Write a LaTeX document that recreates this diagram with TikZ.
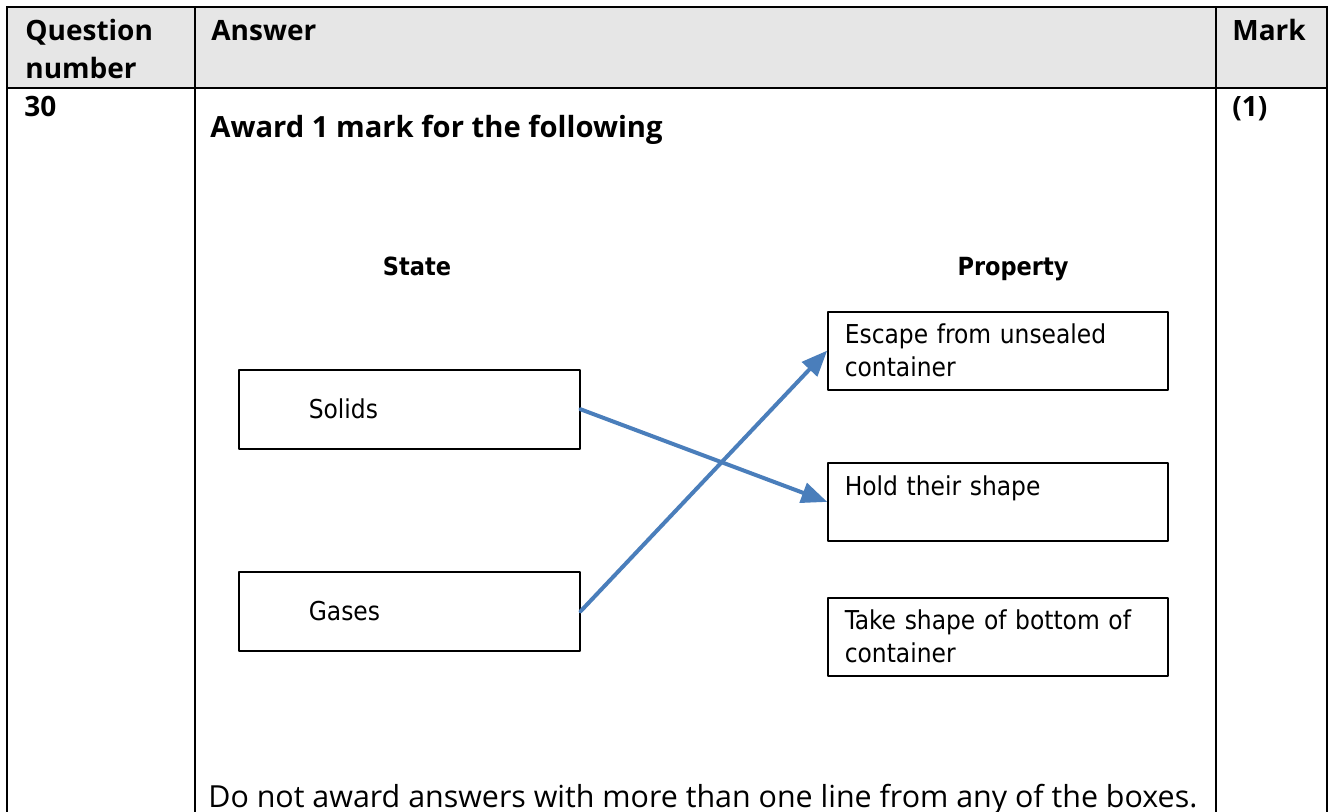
\documentclass[tikz,border=0pt]{standalone}
\usepackage{fontspec}
\setmainfont{Open Sans}
\newfontfamily\boxfont{DejaVu Sans Condensed}
\usepackage[usenames]{xcolor}
\usepackage{tikz}
\usetikzlibrary{arrows}
\definecolor{headgrey}{HTML}{E6E6E6}
\definecolor{linkblue}{HTML}{4A7EBB}
\tikzset{
  headtext/.style={anchor=base west,inner sep=0,font=\fontsize{14}{19}\selectfont\bfseries},
  bodytext/.style={anchor=base west,inner sep=0,font=\fontsize{15.2}{20}\selectfont},
  coltitle/.style={anchor=base,inner sep=0,font=\boxfont\fontsize{12.5}{16.5}\selectfont\bfseries},
  statebox/.style={draw,line width=0.8pt,anchor=north west,minimum height=39.5pt,
    text width=100.5pt,inner xsep=35pt,align=left,font=\boxfont\fontsize{13}{16.5}\selectfont},
  propbox/.style={draw,line width=0.8pt,anchor=north west,minimum height=39pt,
    text width=153pt,inner xsep=8.5pt,align=left,font=\boxfont\fontsize{13}{16.5}\selectfont},
  link/.style={->,line width=2pt,draw=linkblue}
}
\begin{document}
\begin{tikzpicture}[line cap=round,line join=round,>=triangle 45,x=0.5pt,y=-0.5pt]
\useasboundingbox (0,0) rectangle (1333,812);
% table
\fill[headgrey] (7,7) rectangle (1327,88);
\begin{scope}[line width=1.3pt,line cap=rect]
\draw (7,7)-- (1327,7);
\draw (7,88)-- (1327,88);
\draw (7,7)-- (7,812);
\draw (195,7)-- (195,812);
\draw (1216,7)-- (1216,812);
\draw (1327,7)-- (1327,812);
\end{scope}
\node[headtext] (qhead) at (25,41) {Question};
\node[headtext] (qhead2) at (25,79) {number};
\node[headtext] (ahead) at (211,41) {Answer};
\node[headtext] (mhead) at (1232,41) {Mark};
\node[headtext] (qnum) at (24,117) {30};
\node[headtext] (mark) at (1232,117) {(1)};
\node[bodytext,font=\fontsize{14.6}{20}\selectfont\bfseries] (award) at (210,138) {Award 1 mark for the following};
\node[bodytext] (note) at (208,807) {Do not award answers with more than one line from any of the boxes.};
% matching diagram
\node[coltitle] (state) at (417,276) {State};
\node[coltitle] (property) at (1013,276) {Property};
\node[statebox] (solids) at (238,369) {Solids};
\node[statebox] (gases) at (238,571) {Gases};
\node[propbox] (escape) at (827,311) {Escape from unsealed\\container};
\node[propbox] (hold) at (827,462) {Hold their shape\\~};
\node[propbox] (take) at (827,597) {Take shape of bottom of\\container};
\draw[link] (solids.east)-- (hold.west);
\draw[link] (gases.east)-- (escape.west);
\end{tikzpicture}
\end{document}
